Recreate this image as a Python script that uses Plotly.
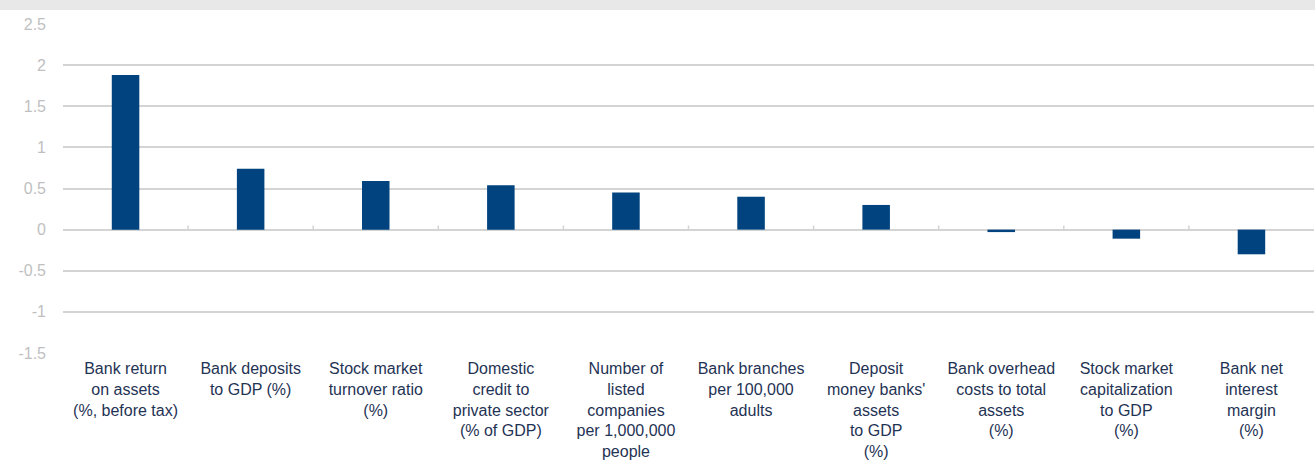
import plotly.graph_objects as go

categories = [
    "Bank return<br>on assets<br>(%, before tax)",
    "Bank deposits<br>to GDP (%)",
    "Stock market<br>turnover ratio<br>(%)",
    "Domestic<br>credit to<br>private sector<br>(% of GDP)",
    "Number of<br>listed<br>companies<br>per 1,000,000<br>people",
    "Bank branches<br>per 100,000<br>adults",
    "Deposit<br>money banks'<br>assets<br>to GDP<br>(%)",
    "Bank overhead<br>costs to total<br>assets<br>(%)",
    "Stock market<br>capitalization<br>to GDP<br>(%)",
    "Bank net<br>interest<br>margin<br>(%)",
]
values = [1.88, 0.74, 0.59, 0.54, 0.45, 0.40, 0.30, -0.03, -0.11, -0.30]
y_tickvals = [-1.5, -1, -0.5, 0, 0.5, 1, 1.5, 2, 2.5]
y_ticktext = ["-1.5", "-1", "-0.5", "0", "0.5", "1", "1.5", "2", "2.5"]

BAR = "#00437F"
GRID = "#D4D4D4"
n = len(categories)
xs = list(range(n))

fig = go.Figure()
fig.add_trace(go.Bar(x=xs, y=values, width=0.22, marker=dict(color=BAR, line=dict(width=0)),
                     hoverinfo="skip"))

shapes = []
# grey band at top of the page
shapes.append(dict(type="rect", xref="paper", yref="paper", x0=-0.06, x1=1.01,
                   y0=1 + 14 / 329, y1=1 + 30 / 329, fillcolor="#E8E8E8", line=dict(width=0),
                   layer="below"))
# small gaps in gridlines and tick marks at category boundaries
for i in range(1, n):
    shapes.append(dict(type="line", xref="x", yref="paper", x0=i - 0.5, x1=i - 0.5, y0=0, y1=1,
                       line=dict(color="white", width=2), layer="between"))
    shapes.append(dict(type="line", xref="x", yref="y", x0=i - 0.5, x1=i - 0.5, y0=0, y1=0.05,
                       line=dict(color=GRID, width=1.5), layer="between"))

fig.update_layout(
    width=1315, height=462,
    margin=dict(l=63, r=1, t=24, b=109),
    paper_bgcolor="white", plot_bgcolor="white",
    showlegend=False,
    shapes=shapes,
    font=dict(family="Liberation Sans, Arial, sans-serif"),
    xaxis=dict(
        tickmode="array", tickvals=xs, ticktext=categories,
        range=[-0.5, n - 0.5],
        showgrid=False, showline=False, zeroline=False, ticks="",
        tickfont=dict(size=16, color="#1F3354"),
        tickangle=0,
        ticklabelstandoff=4,
    ),
    yaxis=dict(
        range=[-1.5, 2.5], tickmode="array", tickvals=y_tickvals, ticktext=y_ticktext,
        showgrid=True, gridcolor=GRID, gridwidth=1.5,
        zeroline=True, zerolinecolor=GRID, zerolinewidth=1.5,
        showline=False, ticks="",
        tickfont=dict(size=16, color="#BFBFBF"),
        ticklabelstandoff=16,
    ),
)

fig.write_html("out.html", config={"displayModeBar": False},
               post_script="document.body.style.margin='0';document.body.style.overflow='hidden';")
